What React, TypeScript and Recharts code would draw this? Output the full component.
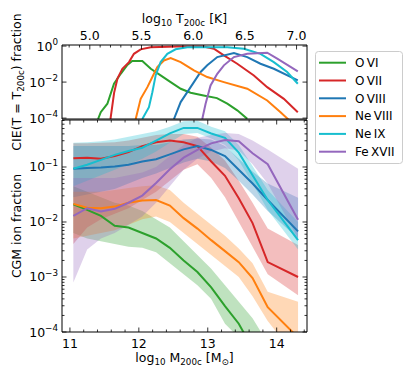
import React from "react"
import { ComposedChart, LineChart, Line, Area, XAxis, YAxis } from "recharts"

const FONT = "'DejaVu Sans', sans-serif"
const FS = 12.5

// ---------- bottom panel: CGM ion fraction vs log10 M200c (log10 values) ----------
const massBins = [11.05, 11.25, 11.45, 11.65, 11.85, 12.05, 12.25, 12.45, 12.65, 12.85, 13.05, 13.25, 13.45, 13.65, 13.87, 14.31]

const oviMedian = [-1.68, -1.78, -1.89, -2.07, -2.1, -2.2, -2.3, -2.47, -2.7, -2.91, -3.19, -3.53, -3.85, -4.3, -4.8, -5.5]
const oviLow = [-2.2, -2.3, -2.35, -2.4, -2.45, -2.47, -2.55, -2.75, -2.95, -3.15, -3.4, -3.85, -4.1, -4.5, -5.0, -5.5]
const oviHigh = [-1.35, -1.45, -1.55, -1.65, -1.7, -1.8, -1.95, -2.1, -2.35, -2.6, -2.85, -3.15, -3.45, -3.75, -4.2, -4.8]

const oviiMedian = [-0.84, -0.83, -0.85, -0.8, -0.73, -0.62, -0.55, -0.52, -0.55, -0.62, -0.9, -1.16, -1.57, -2.02, -2.73, -3.0]
const oviiLow = [-2.4, -2.1, -1.95, -1.85, -1.75, -1.6, -1.45, -1.25, -1.05, -0.95, -1.2, -1.55, -2.0, -2.45, -2.95, -3.33]
const oviiHigh = [-0.57, -0.57, -0.56, -0.55, -0.52, -0.47, -0.42, -0.4, -0.4, -0.45, -0.65, -0.88, -1.25, -1.65, -2.12, -2.42]

const oviiiMedian = [-1.03, -1.02, -1.01, -0.99, -0.96, -0.9, -0.86, -0.77, -0.68, -0.62, -0.69, -0.8, -1.05, -1.3, -1.6, -2.17]
const oviiiLow = [-1.55, -1.5, -1.45, -1.4, -1.3, -1.2, -1.12, -1.02, -0.92, -0.85, -0.9, -1.02, -1.25, -1.5, -1.8, -2.3]
const oviiiHigh = [-0.62, -0.62, -0.62, -0.62, -0.62, -0.6, -0.6, -0.55, -0.5, -0.48, -0.5, -0.62, -0.85, -1.08, -1.3, -1.56]

const neviiiMedian = [-1.67, -1.74, -1.75, -1.72, -1.65, -1.61, -1.6, -1.7, -1.93, -2.12, -2.33, -2.53, -2.73, -3.02, -3.55, -4.1]
const neviiiLow = [-2.3, -2.25, -2.2, -2.15, -2.05, -1.95, -1.9, -2.0, -2.2, -2.4, -2.6, -2.8, -3.0, -3.35, -3.8, -4.5]
const neviiiHigh = [-1.45, -1.45, -1.45, -1.42, -1.38, -1.35, -1.33, -1.42, -1.65, -1.85, -2.05, -2.25, -2.48, -2.75, -3.27, -3.45]

const neixMedian = [-1.03, -0.96, -0.87, -0.78, -0.71, -0.65, -0.52, -0.39, -0.29, -0.29, -0.39, -0.47, -0.74, -1.15, -1.6, -2.33]
const neixLow = [-1.35, -1.25, -1.15, -1.05, -0.95, -0.85, -0.72, -0.56, -0.4, -0.38, -0.48, -0.6, -0.88, -1.3, -1.78, -2.5]
const neixHigh = [-0.56, -0.55, -0.53, -0.5, -0.45, -0.4, -0.35, -0.27, -0.17, -0.16, -0.27, -0.35, -0.6, -0.98, -1.42, -2.0]

const fexviiMedian = [-1.89, -1.75, -1.81, -1.76, -1.65, -1.52, -1.29, -1.04, -0.83, -0.69, -0.57, -0.51, -0.53, -0.75, -0.95, -1.96]
const fexviiLow = [-3.1, -2.5, -2.3, -2.2, -2.05, -1.9, -1.65, -1.35, -1.05, -0.85, -0.72, -0.66, -0.7, -0.95, -1.3, -2.3]
const fexviiHigh = [-1.2, -1.2, -1.2, -1.2, -1.15, -1.1, -1.0, -0.8, -0.6, -0.47, -0.42, -0.38, -0.4, -0.52, -0.68, -1.03]

// ---------- top panel: CIE fraction at T = T200c (log10 T, log10 fraction) ----------
const cieOviLogT = [5.08, 5.106, 5.17, 5.234, 5.299, 5.36, 5.41, 5.508, 5.59, 5.685, 5.782, 5.88, 5.975, 6.1, 6.23, 6.33, 6.426, 6.523]
const cieOviLogF = [-4.05, -3.67, -3.2, -2.09, -1.54, -1.07, -0.83, -0.83, -1.26, -1.63, -2.0, -2.37, -2.59, -2.74, -2.89, -3.2, -3.57, -4.04]

const cieOviiLogT = [5.2, 5.235, 5.267, 5.315, 5.379, 5.427, 5.492, 5.589, 5.846, 6.1, 6.2, 6.297, 6.426, 6.587, 6.716, 6.877, 7.012]
const cieOviiLogF = [-4.05, -2.6, -1.81, -1.26, -0.89, -0.43, -0.18, -0.06, -0.02, -0.02, -0.15, -0.52, -0.98, -1.63, -2.28, -2.93, -3.67]

const cieOviiiLogT = [5.814, 5.879, 5.943, 6.007, 6.072, 6.136, 6.233, 6.394, 6.523, 6.651, 6.78, 7.012]
const cieOviiiLogF = [-4.05, -3.11, -2.56, -2.0, -1.44, -1.07, -0.61, -0.39, -0.61, -0.98, -1.26, -1.91]

const cieNeviiiLogT = [5.444, 5.492, 5.557, 5.605, 5.653, 5.717, 5.782, 5.879, 6.007, 6.136, 6.297, 6.523, 6.716, 6.845, 6.925]
const cieNeviiiLogF = [-4.05, -2.93, -2.28, -1.72, -1.17, -0.8, -0.67, -0.89, -1.35, -1.72, -2.0, -2.37, -3.02, -3.67, -4.1]

const cieNeixLogT = [5.508, 5.572, 5.605, 5.637, 5.685, 5.75, 5.83, 5.943, 6.33, 6.49, 6.651, 6.78, 6.909, 7.012]
const cieNeixLogF = [-4.05, -3.39, -2.56, -1.63, -0.89, -0.43, -0.18, -0.06, -0.06, -0.15, -0.43, -0.89, -1.44, -2.09]

const cieFexviiLogT = [6.088, 6.12, 6.168, 6.233, 6.297, 6.394, 6.523, 6.716, 6.813, 7.012]
const cieFexviiLogF = [-4.05, -3.2, -2.19, -1.54, -1.07, -0.61, -0.43, -0.37, -0.7, -1.41]

// ---------- ticks ----------
const massTicks = [11, 11.2, 11.4, 11.6, 11.8, 12, 12.2, 12.4, 12.6, 12.8, 13, 13.2, 13.4, 13.6, 13.8, 14, 14.2, 14.4]
const massMajor = [11, 12, 13, 14]
const tempTicks = [4.8, 4.9, 5.0, 5.1, 5.2, 5.3, 5.4, 5.5, 5.6, 5.7, 5.8, 5.9, 6.0, 6.1, 6.2, 6.3, 6.4, 6.5, 6.6, 6.7, 6.8, 6.9, 7.0]
const tempMajor = [5.0, 5.5, 6.0, 6.5, 7.0]
const cieTicks = [1e-4, 1e-2, 1]
const ionTicks = [
  1e-4, 2e-4, 3e-4, 4e-4, 5e-4, 6e-4, 7e-4, 8e-4, 9e-4,
  1e-3, 2e-3, 3e-3, 4e-3, 5e-3, 6e-3, 7e-3, 8e-3, 9e-3,
  1e-2, 2e-2, 3e-2, 4e-2, 5e-2, 6e-2, 7e-2, 8e-2, 9e-2,
  1e-1, 2e-1, 3e-1, 4e-1, 5e-1, 6e-1, 7e-1,
]
const ionMajor = [1e-4, 1e-3, 1e-2, 1e-1]

const ions = [
  { key: "ovi", name: "O\u2009VI", color: "#2ca02c", med: oviMedian, lo: oviLow, hi: oviHigh, t: cieOviLogT, f: cieOviLogF },
  { key: "ovii", name: "O\u2009VII", color: "#d62728", med: oviiMedian, lo: oviiLow, hi: oviiHigh, t: cieOviiLogT, f: cieOviiLogF },
  { key: "oviii", name: "O\u2009VIII", color: "#1f77b4", med: oviiiMedian, lo: oviiiLow, hi: oviiiHigh, t: cieOviiiLogT, f: cieOviiiLogF },
  { key: "neviii", name: "Ne\u2009VIII", color: "#ff7f0e", med: neviiiMedian, lo: neviiiLow, hi: neviiiHigh, t: cieNeviiiLogT, f: cieNeviiiLogF },
  { key: "neix", name: "Ne\u2009IX", color: "#17becf", med: neixMedian, lo: neixLow, hi: neixHigh, t: cieNeixLogT, f: cieNeixLogF },
  { key: "fexvii", name: "Fe\u2009XVII", color: "#9467bd", med: fexviiMedian, lo: fexviiLow, hi: fexviiHigh, t: cieFexviiLogT, f: cieFexviiLogF },
]

const massTable = massBins.map((m, i) => {
  const row: Record<string, any> = { m }
  ions.forEach((ion) => {
    row[ion.key] = 10 ** ion.med[i]
    row[ion.key + "Band"] = [10 ** ion.lo[i], 10 ** ion.hi[i]]
  })
  return row
})

const cieLines = ions.map((ion) => ({
  ...ion,
  data: ion.t.map((t, i) => ({ t, f: 10 ** ion.f[i] })),
}))

const massDomain = [10.885, 14.44]
const tempDomain = [4.731, 7.101]
const cieDomain = [10 ** -4.05, 10 ** 0.06]
const ionDomain = [1e-4, 0.715]

type Side = "top" | "bottom" | "left" | "right"
const PAD: Record<Side, number> = { top: 5.5, bottom: 6, left: 4, right: 4 }
const frame = { stroke: "#000", strokeWidth: 1 }

function pow10(v: number) {
  const e = Math.round(Math.log10(v))
  return (
    <>
      <tspan>10</tspan>
      <tspan dy={-5.5} fontSize={FS * 0.7}>{e < 0 ? "\u2212" + -e : String(e)}</tspan>
    </>
  )
}

// axes are 1px thick (a zero-size axis is not drawn), tick lines point inward
function makeTick(side: Side, majors: number[], label?: (v: number) => React.ReactNode) {
  return (props: any) => {
    const { x, y, payload } = props
    const v = Number(payload.value)
    const major = majors.some((m) => Math.abs(m - v) < Math.abs(m) * 1e-6)
    const len = major ? 4.5 : 2.5
    const pad = PAD[side]
    let x1 = x, x2 = x, y1 = y, y2 = y
    if (side === "bottom") { y1 = y - pad; y2 = y1 - len }
    else if (side === "top") { y1 = y + pad; y2 = y1 + len }
    else if (side === "left") { x1 = x + pad; x2 = x1 + len }
    else { x1 = x - pad; x2 = x1 - len }
    let text = null
    if (major && label) {
      const common = { fontFamily: FONT, fontSize: FS, fill: "#000" }
      if (side === "bottom") text = <text x={x} y={y} dy="0.76em" textAnchor="middle" {...common}>{label(v)}</text>
      else if (side === "top") text = <text x={x} y={y} textAnchor="middle" {...common}>{label(v)}</text>
      else if (side === "left") text = <text x={x} y={y} dy="0.36em" textAnchor="end" {...common}>{label(v)}</text>
    }
    return (
      <g>
        <line x1={x1} x2={x2} y1={y1} y2={y2} stroke="#000" strokeWidth={0.8} />
        {text}
      </g>
    )
  }
}

const axisBase = { tickSize: 0, tickLine: false, axisLine: frame, interval: 0 as const, allowDataOverflow: true }

function TopPanel() {
  return (
    <LineChart width={411} height={125} margin={{ top: 44, right: 103, bottom: 5, left: 61 }}>
      <XAxis xAxisId="t" orientation="top" type="number" dataKey="t" domain={tempDomain} ticks={tempTicks} height={1}
        tickMargin={PAD.top} tick={makeTick("top", tempMajor, (v) => v.toFixed(1))} {...axisBase} />
      <XAxis xAxisId="m" orientation="bottom" type="number" domain={massDomain} ticks={massTicks} height={1}
        tickMargin={PAD.bottom} tick={makeTick("bottom", massMajor)} {...axisBase} />
      <YAxis yAxisId="l" orientation="left" type="number" scale="log" domain={cieDomain} ticks={cieTicks} width={1}
        tickMargin={PAD.left} tick={makeTick("left", cieTicks, pow10)} {...axisBase} />
      <YAxis yAxisId="r" orientation="right" type="number" scale="log" domain={cieDomain} ticks={cieTicks} width={1}
        tickMargin={PAD.right} tick={makeTick("right", cieTicks)} {...axisBase} />
      {cieLines.map((ion) => (
        <Line key={ion.key} data={ion.data} dataKey="f" xAxisId="t" yAxisId="l" stroke={ion.color} strokeWidth={2}
          dot={false} activeDot={false} isAnimationActive={false} />
      ))}
    </LineChart>
  )
}

function BottomPanel() {
  return (
    <ComposedChart width={411} height={374} data={massTable} margin={{ top: 119, right: 103, bottom: 41, left: 61 }}>
      <XAxis xAxisId="b" orientation="bottom" type="number" dataKey="m" domain={massDomain} ticks={massTicks} height={1}
        tickMargin={PAD.bottom} tick={makeTick("bottom", massMajor, (v) => String(v))} {...axisBase} />
      <XAxis xAxisId="t" orientation="top" type="number" dataKey="m" domain={massDomain} ticks={massTicks} height={1}
        tickMargin={PAD.top} tick={makeTick("top", massMajor)} {...axisBase} />
      <YAxis yAxisId="l" orientation="left" type="number" scale="log" domain={ionDomain} ticks={ionTicks} width={1}
        tickMargin={PAD.left} tick={makeTick("left", ionMajor, pow10)} {...axisBase} />
      <YAxis yAxisId="r" orientation="right" type="number" scale="log" domain={ionDomain} ticks={ionTicks} width={1}
        tickMargin={PAD.right} tick={makeTick("right", ionMajor)} {...axisBase} />
      {ions.map((ion) => (
        <Area key={ion.key + "Band"} dataKey={ion.key + "Band"} xAxisId="b" yAxisId="l" stroke="none"
          fill={ion.color} fillOpacity={0.3} dot={false} activeDot={false} isAnimationActive={false} />
      ))}
      {ions.map((ion) => (
        <Line key={ion.key} dataKey={ion.key} xAxisId="b" yAxisId="l" stroke={ion.color} strokeWidth={2}
          dot={false} activeDot={false} isAnimationActive={false} />
      ))}
    </ComposedChart>
  )
}

function Sub({ children }: { children: React.ReactNode }) {
  return <tspan fontSize={FS * 0.7} dy={3}>{children}</tspan>
}

function Overlay() {
  const legendY = [62.7, 80.5, 98.3, 116.1, 133.9, 151.7]
  return (
    <svg width={411} height={374} style={{ position: "absolute", left: 0, top: 0, pointerEvents: "none" }}
      fontFamily={FONT} fontSize={FS}>
      <text x={184.5} y={23} textAnchor="middle">
        log<Sub>10</Sub><tspan dy={-3}> T</tspan><Sub>200c</Sub><tspan dy={-3}> [K]</tspan>
      </text>
      <text x={184.5} y={362} textAnchor="middle">
        log<Sub>10</Sub><tspan dy={-3}> M</tspan><Sub>200c</Sub><tspan dy={-3}> [M</tspan><Sub>{"\u2299"}</Sub><tspan dy={-3}>]</tspan>
      </text>
      <text x={20.5} y={82} textAnchor="middle" transform="rotate(-90 20.5 82)">
        CIE(T = T<Sub>200c</Sub><tspan dy={-3}>) fraction</tspan>
      </text>
      <text x={20.5} y={226} textAnchor="middle" transform="rotate(-90 20.5 226)">
        CGM ion fraction
      </text>
      <rect x={315.5} y={51.5} width={87} height={112} rx={3} fill="#fff" fillOpacity={0.8} stroke="#ccc" />
      {ions.map((ion, i) => (
        <g key={ion.key}>
          <line x1={319} x2={346} y1={legendY[i]} y2={legendY[i]} stroke={ion.color} strokeWidth={2} />
          <text x={355} y={legendY[i]} dy="0.36em" fontSize={12}>{ion.name}</text>
        </g>
      ))}
    </svg>
  )
}

export default function App() {
  return (
    <div style={{ position: "absolute", left: 0, top: 0, width: 411, height: 374, background: "#fff" }}>
      <div style={{ position: "absolute", left: 0, top: 0 }}>
        <BottomPanel />
      </div>
      <div style={{ position: "absolute", left: 0, top: 0 }}>
        <TopPanel />
      </div>
      <Overlay />
    </div>
  )
}
